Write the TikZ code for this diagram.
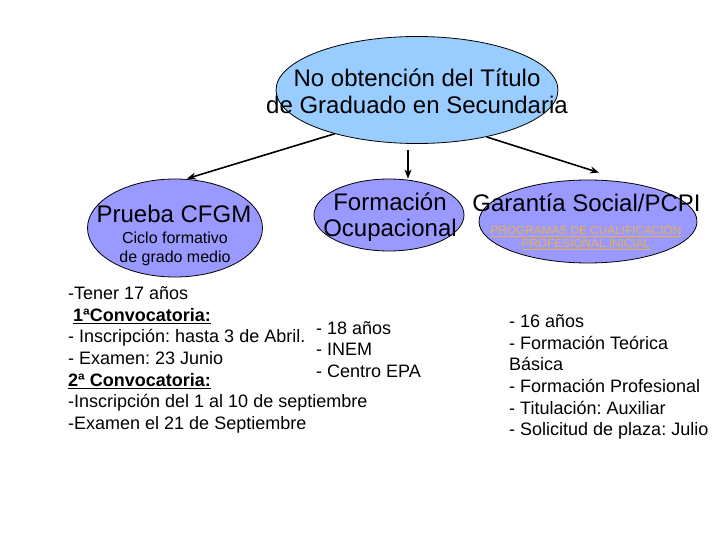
\documentclass[tikz,border=0pt]{standalone}
\usepackage{fontspec}
\setmainfont{Liberation Sans}
\frenchspacing
\usetikzlibrary{arrows.meta,positioning,shapes.geometric}
\definecolor{cTop}  {RGB}{153,204,255}
\definecolor{cBox}  {RGB}{153,153,255}
\definecolor{cLink} {RGB}{232,176, 80}

\begin{document}
\begin{tikzpicture}[
  x=1pt, y=-1pt,
  %% ── ellipse (shape only, text set apart) ─────────────────────────────
  E/.style={
    ellipse, draw=black, fill=#1, line width=0.8pt, inner sep=0pt
  },
  %% ── big heading text ─────────────────────────────────────────────────
  H/.style={font=\fontsize{24}{27}\selectfont, align=center, inner sep=0pt},
  %% ── small heading text ───────────────────────────────────────────────
  Hs/.style={font=\fontsize{16}{18.7}\selectfont, align=center, inner sep=0pt},
  %% ── orange link-like text ────────────────────────────────────────────
  K/.style={font=\fontsize{11.8}{13.5}\selectfont, align=center, inner sep=0pt,
            text=cLink},
  %% ── body text block ──────────────────────────────────────────────────
  B/.style={font=\fontsize{18}{21.7}\selectfont, align=left, inner sep=0pt,
            anchor=west},
  %% ── arrow ────────────────────────────────────────────────────────────
  A/.style={-{Stealth[length=9pt,width=7pt]}, line width=1.6pt},
]

\path[use as bounding box, fill=white] (0,0) rectangle (720,540);

%% ═══════════════════════════════════════════════════════════════════════
%%  ELLIPSES
%% ═══════════════════════════════════════════════════════════════════════

\node[E=cTop, minimum width=282pt, minimum height=107pt] (titulo) at (417,90) {};
\node[H] (tituloTxt) at (417,91) {No obtención del Título\\de Graduado en Secundaria};

\node[E=cBox, minimum width=175pt, minimum height=98pt] (cfgm) at (175,228) {};
\node[H] (cfgmTxt) at (174,214) {Prueba CFGM};
\node[Hs] (cfgmSub) at (175,249) {Ciclo formativo\\de grado medio};

\node[E=cBox, minimum width=150pt, minimum height=72pt] (ocup) at (389,215) {};
\node[H, font=\fontsize{24}{25.5}\selectfont] (ocupTxt) at (390,217) {Formación\\Ocupacional};

\node[E=cBox, minimum width=218pt, minimum height=83pt] (pcpi) at (588,221.5) {};
\node[H] (pcpiTxt) at (586.5,203) {Garantía Social/PCPI};
\node[K] (pcpiSub) at (586,237) {%
  \underline{PROGRAMAS DE CUALIFICACIÓN}\\\underline{PROFESIONAL INICIAL}};

%% ═══════════════════════════════════════════════════════════════════════
%%  ARROWS
%% ═══════════════════════════════════════════════════════════════════════

\coordinate (down) at ([xshift=-9pt, yshift=-6pt]titulo.south);

\draw[A] (titulo.208) -- ([xshift=12pt]cfgm.north);
\draw[A] (down) -- (down |- ocup.north);
\draw[A] (titulo.326) -- ([xshift=11pt, yshift=7pt]pcpi.north);

%% ═══════════════════════════════════════════════════════════════════════
%%  TEXT BLOCKS
%% ═══════════════════════════════════════════════════════════════════════

\node[B] (reqCfgm) at (68,360) {%
  -Tener 17 años\\
  \hspace*{5pt}\underline{\textbf{1ªConvocatoria:}}\\
  - Inscripción: hasta 3 de Abril.\\
  - Examen: 23 Junio\\
  \underline{\textbf{2ª Convocatoria:}}\\
  -Inscripción del 1 al 10 de septiembre\\
  -Examen el 21 de Septiembre};

\node[B] (reqOcup) at (316,349.5) {%
  - 18 años\\
  - INEM\\
  - Centro EPA};

\node[B] (reqPcpi) at (509,377) {%
  - 16 años\\
  - Formación Teórica\\
  Básica\\
  - Formación Profesional\\
  - Titulación: Auxiliar\\
  - Solicitud de plaza: Julio};

\end{tikzpicture}
\end{document}
